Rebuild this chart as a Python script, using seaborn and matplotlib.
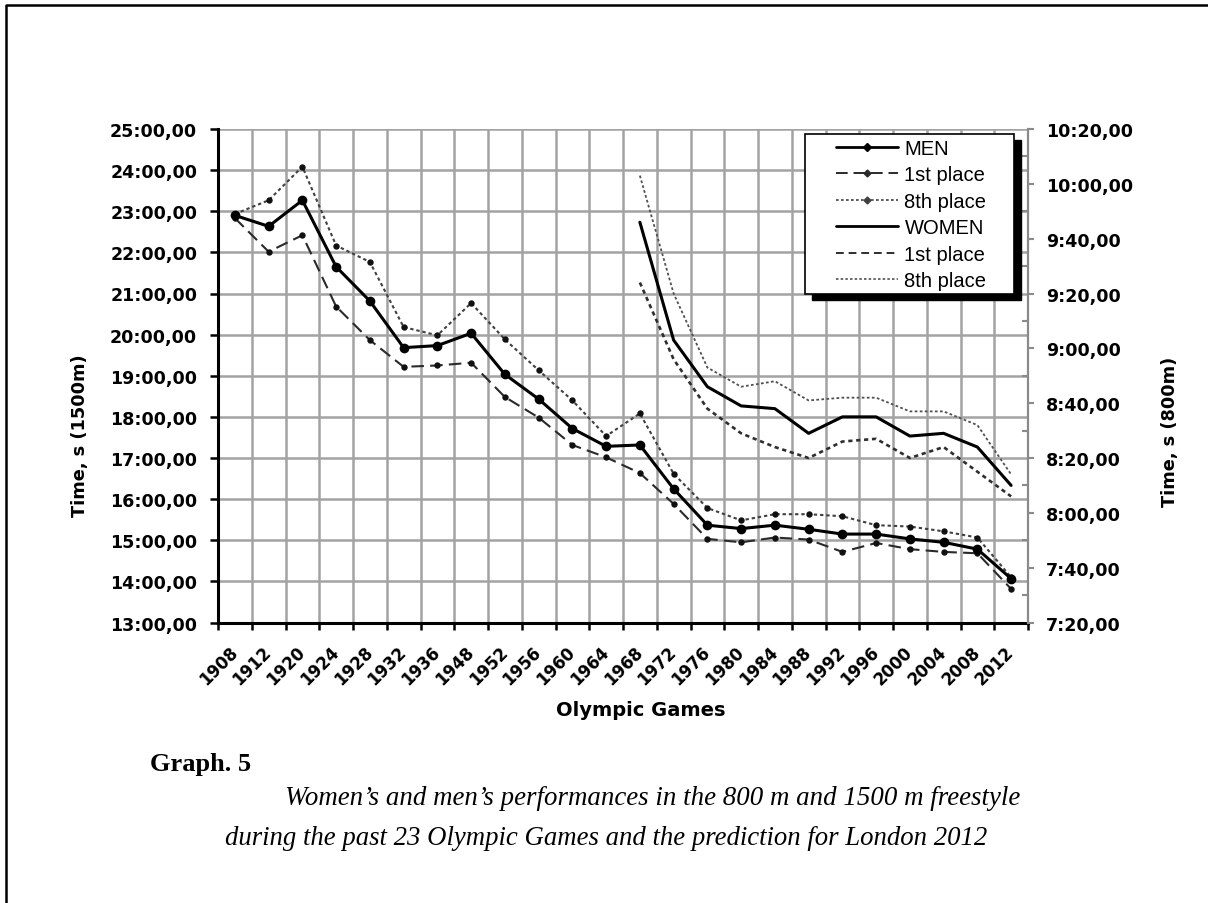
import numpy as np
import pandas as pd
import matplotlib
matplotlib.use("Agg")
import matplotlib.pyplot as plt
import seaborn as sns
from matplotlib.ticker import FixedLocator, FuncFormatter, MultipleLocator, NullFormatter
from matplotlib.lines import Line2D
from matplotlib.patches import Rectangle

# ---------------- data (times in seconds) ----------------
years = ["1908", "1912", "1920", "1924", "1928", "1932", "1936", "1948", "1952", "1956",
         "1960", "1964", "1968", "1972", "1976", "1980", "1984", "1988", "1992", "1996",
         "2000", "2004", "2008", "2012"]
# Men 1500 m (left axis)
men_mean = [1374, 1358, 1396, 1299, 1249, 1181, 1184, 1202, 1142, 1106, 1063, 1037,
            1039, 975, 922, 917, 922, 916, 909, 909, 902, 897, 887, 844]
men_first = [1370, 1321, 1345, 1241, 1192, 1153, 1155, 1159, 1109, 1079, 1039, 1021,
             998, 953, 902, 897, 904, 901, 883, 896, 887, 883, 881, 829]
men_eighth = [1376, 1396, 1445, 1330, 1306, 1211, 1199, 1246, 1193, 1148, 1104, 1052,
              1085, 997, 947, 929, 938, 938, 935, 922, 920, 913, 904, 846]
# Women 800 m (right axis), from 1968
women_years = ["1968", "1972", "1976", "1980", "1984", "1988", "1992", "1996",
               "2000", "2004", "2008", "2012"]
women_mean = [586, 543, 526, 519, 518, 509, 515, 515, 508, 509, 504, 490]
women_first = [564, 536, 518, 509, 504, 500, 506, 507, 500, 504, 495, 486]
women_eighth = [603, 560, 533, 526, 528, 521, 522, 522, 517, 517, 512, 494]

legend_labels = ["MEN", "1st place", "8th place", "WOMEN", "1st place", "8th place"]

# ---------------- figure ----------------
sns.set_theme(style="white")
plt.rcParams["font.family"] = ["DejaVu Sans"]
plt.rcParams["text.color"] = "black"
plt.rcParams["axes.labelcolor"] = "black"
plt.rcParams["xtick.color"] = "black"
plt.rcParams["ytick.color"] = "black"

W, H = 1208, 904
fig = plt.figure(figsize=(W / 100, H / 100), dpi=100)
fig.patch.set_facecolor("white")

L, R, T, B = 218, 1028, 130, 623.5
ax = fig.add_axes([L / W, 1 - B / H, (R - L) / W, (B - T) / H])
ax2 = ax.twinx()

pos = {y: i for i, y in enumerate(years)}
men_df = pd.DataFrame({"x": [pos[y] for y in years], "mean": men_mean,
                       "first": men_first, "eighth": men_eighth})
wom_df = pd.DataFrame({"x": [pos[y] for y in women_years], "mean": women_mean,
                       "first": women_first, "eighth": women_eighth})

grid_c = "#a3a3a3"

# Men series
sns.lineplot(data=men_df, x="x", y="first", ax=ax, color="#2a2a2a", lw=1.5,
             linestyle=(0, (6, 3)), marker="o", markersize=4.6, markeredgewidth=0,
             markerfacecolor="#111111", zorder=4)
sns.lineplot(data=men_df, x="x", y="eighth", ax=ax, color="#404040", lw=1.5,
             linestyle=(0, (1.6, 1.4)), marker="o", markersize=4.6, markeredgewidth=0,
             markerfacecolor="#111111", zorder=4)
sns.lineplot(data=men_df, x="x", y="mean", ax=ax, color="black", lw=2.2,
             linestyle="-", marker="o", markersize=7, markeredgewidth=0,
             markerfacecolor="black", zorder=5)

# Women series
sns.lineplot(data=wom_df, x="x", y="first", ax=ax2, color="#2e2e2e", lw=1.9,
             linestyle=(0, (1.6, 1.4)), zorder=4)
sns.lineplot(data=wom_df, x="x", y="eighth", ax=ax2, color="#505050", lw=1.3,
             linestyle=(0, (1.5, 1.3)), zorder=4)
sns.lineplot(data=wom_df, x="x", y="mean", ax=ax2, color="black", lw=2.2,
             linestyle="-", zorder=5)

# ---------------- axes formatting ----------------
n = len(years)
ax.set_xlim(-0.5, n - 0.5)
ax.set_ylim(13 * 60, 25 * 60)
ax2.set_ylim(7 * 60 + 20, 10 * 60 + 20)


def fmt(v, _p=None):
    v = int(round(v))
    return f"{v // 60}:{v % 60:02d},00"


ax.xaxis.set_major_locator(FixedLocator(np.arange(-0.5, n, 1.0)))
ax.xaxis.set_major_formatter(NullFormatter())
ax.set_xticks(np.arange(n), minor=True)
ax.set_xticklabels(years, minor=True)
ax.yaxis.set_major_locator(MultipleLocator(60))
ax.yaxis.set_major_formatter(FuncFormatter(fmt))
ax2.yaxis.set_major_locator(MultipleLocator(20))
ax2.yaxis.set_minor_locator(MultipleLocator(10))
ax2.yaxis.set_major_formatter(FuncFormatter(fmt))

ax.grid(True, which="major", axis="both", color=grid_c, lw=1.8)
ax.set_axisbelow(True)
ax2.grid(False)

ax.tick_params(axis="x", which="major", direction="out", length=5, width=1.8,
               color="black", bottom=True)
ax.tick_params(axis="x", which="minor", length=0, pad=19, labelsize=12)
for lab in ax.get_xticklabels(minor=True):
    lab.set_rotation(45)
    lab.set_ha("right")
    lab.set_va("center")
    lab.set_rotation_mode("anchor")
    lab.set_fontweight("bold")
ax.tick_params(axis="y", which="major", direction="out", length=6, width=1.8,
               color="black", left=True, pad=9, labelsize=12.6)
for lab in ax.get_yticklabels():
    lab.set_fontweight("bold")
ax2.tick_params(axis="y", which="major", direction="out", length=4, width=1.5,
                color="#8a8a8a", labelcolor="black", right=True, pad=9, labelsize=12.6)
ax2.tick_params(axis="y", which="minor", direction="in", length=4, width=1.5,
                color="#8a8a8a", right=True)
for lab in ax2.get_yticklabels():
    lab.set_fontweight("bold")

for s in ["top", "right"]:
    ax.spines[s].set_visible(False)
ax.spines["left"].set_color("black")
ax.spines["left"].set_linewidth(2.2)
ax.spines["bottom"].set_color("black")
ax.spines["bottom"].set_linewidth(2.2)
ax.spines["left"].set_zorder(6)
for s in ["top", "left", "bottom"]:
    ax2.spines[s].set_visible(False)
ax2.spines["right"].set_color("#8a8a8a")
ax2.spines["right"].set_linewidth(1.6)

ax.set_xlabel("Olympic Games", fontsize=14, fontweight="bold")
ax.xaxis.set_label_coords((641 - L) / (R - L), -(711 - B) / (B - T))
ax.xaxis.label.set_va("center")
ax.set_ylabel("Time, s (1500m)", fontsize=12.8, fontweight="bold")
ax.yaxis.set_label_coords(-(L - 80) / (R - L), 1 - (436 - T) / (B - T))
ax.yaxis.label.set_va("center")
ax2.set_ylabel("Time, s (800m)", fontsize=12.8, fontweight="bold")
ax2.yaxis.set_label_coords(1 + (1170 - R) / (R - L), 1 - (432 - T) / (B - T))
ax2.yaxis.label.set_va("center")

# ---------------- legend ----------------
handles = [
    Line2D([], [], color="black", lw=2.0, marker="D", markersize=4),
    Line2D([], [], color="#2a2a2a", lw=1.4, linestyle=(0, (6, 3)), marker="D", markersize=3.5),
    Line2D([], [], color="#404040", lw=1.2, linestyle=(0, (1.6, 1.4)), marker="D", markersize=3.5),
    Line2D([], [], color="black", lw=2.0),
    Line2D([], [], color="#2e2e2e", lw=1.4, linestyle=(0, (4, 2.5))),
    Line2D([], [], color="#505050", lw=1.2, linestyle=(0, (1.5, 1.3))),
]
bx0, by0, bx1, by1 = 805, 135, 1014, 295
shadow = Rectangle(((bx0 + 7) / W, 1 - (by1 + 6) / H), (bx1 - bx0) / W, (by1 - by0) / H,
                   transform=fig.transFigure, facecolor="black", edgecolor="black",
                   zorder=8)
frame = Rectangle((bx0 / W, 1 - by1 / H), (bx1 - bx0) / W, (by1 - by0) / H,
                  transform=fig.transFigure, facecolor="white", edgecolor="black",
                  lw=1.2, zorder=9)
fig.add_artist(shadow)
fig.add_artist(frame)
leg = fig.legend(handles, legend_labels, loc="upper left",
                 bbox_to_anchor=(836 / W, 1 - 140 / H), frameon=False,
                 prop={"family": ["Liberation Sans"], "size": 14.5},
                 handlelength=3.1, handletextpad=0.3, labelspacing=0.37,
                 borderpad=0, borderaxespad=0)
leg.set_zorder(10)
for t in leg.get_texts():
    t.set_color("black")

# ---------------- caption & page frame ----------------
fig.text(150 / W, 1 - 765 / H, "Graph. 5", fontsize=19, fontweight="bold",
         family=["Liberation Serif"], va="center", ha="left")
fig.text(285 / W, 1 - 799 / H,
         "Women\u2019s and men\u2019s performances in the 800 m and 1500 m freestyle",
         fontsize=19.4, style="italic", family=["Liberation Serif"], va="center", ha="left")
fig.text(225 / W, 1 - 839 / H,
         "during the past 23 Olympic Games and the prediction for London 2012",
         fontsize=19.3, style="italic", family=["Liberation Serif"], va="center", ha="left")

fig.add_artist(Line2D([5.5 / W, 5.5 / W, 1.0], [0.0, 1 - 5.5 / H, 1 - 5.5 / H],
                      transform=fig.transFigure, color="black", lw=1.8))

fig.savefig("out.png", dpi=100)
